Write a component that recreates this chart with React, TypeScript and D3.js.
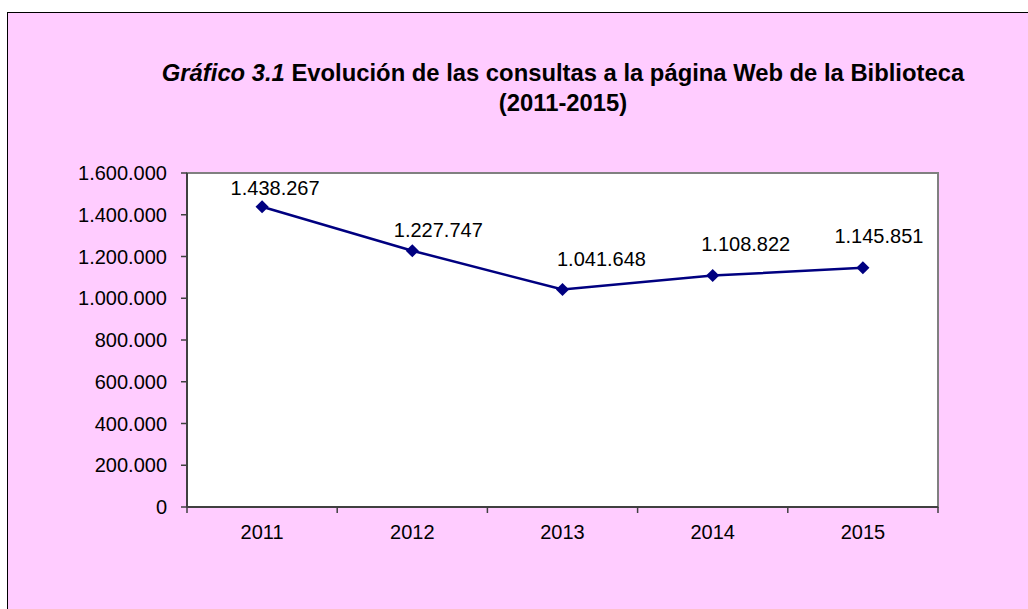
import * as d3 from "d3";

// data
const years = ["2011", "2012", "2013", "2014", "2015"];
const consultas = [1438267, 1227747, 1041648, 1108822, 1145851];
const yTicks = [0, 200000, 400000, 600000, 800000, 1000000, 1200000, 1400000, 1600000];

// label nudges (dx, dy) relative to each point, as placed in the original
const labelShift = [
  [13, -12],
  [26, -14],
  [39, -24],
  [33, -25],
  [16, -25],
];

const W = 1028;
const H = 609;
const plot = { left: 187, top: 173, right: 938, bottom: 507 };
const font = "'Liberation Sans', Arial, sans-serif";

const es = d3.formatLocale({
  decimal: ",",
  thousands: ".",
  grouping: [3],
  currency: ["", " €"],
});
const fmt = es.format(",d");

export default function App() {
  const x = d3
    .scaleBand()
    .domain(years)
    .range([plot.left, plot.right])
    .paddingInner(0)
    .paddingOuter(0);
  const y = d3.scaleLinear().domain([0, 1600000]).range([plot.bottom, plot.top]);

  const cx = (i: number) => (x(years[i]) as number) + x.bandwidth() / 2;

  const line = d3
    .line<number>()
    .x((_, i) => cx(i))
    .y((d) => y(d));

  const bounds = years.map((yr) => x(yr) as number).concat([plot.right]);

  return (
    <svg
      width={W}
      height={H}
      style={{ position: "absolute", left: 0, top: 0 }}
      fontFamily={font}
    >
      <rect x={0} y={0} width={W} height={H} fill="#fff" />
      <rect x={7.5} y={12.5} width={W + 10} height={H + 10} fill="#ffccff" stroke="#000" strokeWidth={1} />

      <text x={563} y={81} textAnchor="middle" fontSize={23.8} fontWeight="bold" fill="#000">
        <tspan fontStyle="italic">Gráfico 3.1</tspan> Evolución de las consultas a la página Web de la Biblioteca
      </text>
      <text x={563} y={111} textAnchor="middle" fontSize={23.8} fontWeight="bold" fill="#000">
        (2011-2015)
      </text>

      {/* plot area */}
      <rect
        x={plot.left}
        y={plot.top}
        width={plot.right - plot.left}
        height={plot.bottom - plot.top}
        fill="#fff"
        stroke="#808080"
        strokeWidth={2}
      />

      {/* y axis */}
      <line x1={plot.left} x2={plot.left} y1={plot.top} y2={plot.bottom} stroke="#404040" strokeWidth={2} />
      {yTicks.map((t) => (
        <g key={t}>
          <line x1={plot.left - 6} x2={plot.left} y1={y(t)} y2={y(t)} stroke="#404040" strokeWidth={1.5} />
          <text x={167} y={y(t)} dy="0.35em" textAnchor="end" fontSize={20} fill="#000">
            {fmt(t)}
          </text>
        </g>
      ))}

      {/* x axis */}
      <line x1={plot.left} x2={plot.right} y1={plot.bottom} y2={plot.bottom} stroke="#404040" strokeWidth={2} />
      {bounds.map((b, i) => (
        <line key={i} x1={b} x2={b} y1={plot.bottom} y2={plot.bottom + 6} stroke="#404040" strokeWidth={1.5} />
      ))}
      {years.map((yr, i) => (
        <text key={yr} x={cx(i)} y={539} textAnchor="middle" fontSize={20} fill="#000">
          {yr}
        </text>
      ))}

      {/* series */}
      <path d={line(consultas) || ""} fill="none" stroke="#000080" strokeWidth={2.5} />
      {consultas.map((v, i) => (
        <path
          key={i}
          d={d3.symbol(d3.symbolDiamond2, 110)() || ""}
          transform={`translate(${cx(i)},${y(v)})`}
          fill="#000080"
        />
      ))}
      {consultas.map((v, i) => (
        <text
          key={"l" + i}
          x={cx(i) + labelShift[i][0]}
          y={y(v) + labelShift[i][1]}
          textAnchor="middle"
          fontSize={20}
          fill="#000"
        >
          {fmt(v)}
        </text>
      ))}
    </svg>
  );
}
